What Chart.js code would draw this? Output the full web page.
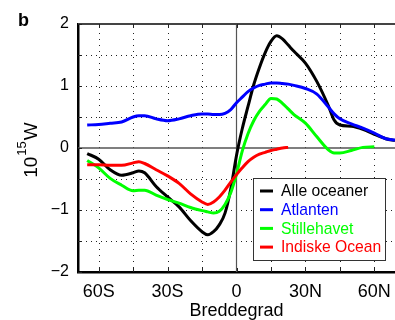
<!DOCTYPE html>
<html>
<head>
<meta charset="utf-8">
<script src="https://cdn.jsdelivr.net/npm/chart.js@4.4.0/dist/chart.umd.min.js"></script>
<style>
body { margin: 0; background: #fff; overflow: hidden; }
</style>
</head>
<body>
<canvas id="chart" width="395" height="320"></canvas>
<script>
// latitude (negative = south), heat transport in 10^15 W
const lats = [-65, -60, -55, -50, -45, -42.5, -40, -35, -30, -25, -20, -15, -12.5, -10, -7.5, -5, -2.5,
    0, 2.5, 5, 7.5, 10, 12.5, 15, 17.5, 20, 22.5, 25, 30, 35, 40, 42.5, 45, 50, 55, 60, 65, 69]

const alleOceaner = [-0.09, -0.18, -0.35, -0.44, -0.40, -0.37, -0.40, -0.62, -0.79, -0.95, -1.17, -1.35, -1.40, -1.35, -1.24, -1.05, -0.66,
    -0.12, 0.31, 0.67, 1.02, 1.30, 1.54, 1.72, 1.81, 1.76, 1.66, 1.56, 1.37, 1.07, 0.68, 0.45, 0.37, 0.35, 0.30, 0.22, 0.15, 0.12]
const atlanten = [0.37, 0.38, 0.40, 0.42, 0.50, 0.52, 0.52, 0.47, 0.44, 0.47, 0.52, 0.55, 0.55, 0.54, 0.54, 0.56, 0.62,
    0.73, 0.82, 0.91, 0.97, 1.01, 1.03, 1.05, 1.05, 1.04, 1.03, 1.01, 0.96, 0.87, 0.66, 0.55, 0.47, 0.39, 0.32, 0.24, 0.15, 0.13]
const stillehavet = [-0.20, -0.32, -0.49, -0.60, -0.69, -0.68, -0.68, -0.76, -0.83, -0.89, -0.96, -1.01, -1.03, -1.05, -1.02, -0.91, -0.72,
    -0.42, -0.05, 0.23, 0.44, 0.59, 0.70, 0.80, 0.79, 0.72, 0.63, 0.54, 0.40, 0.18, -0.03, -0.08, -0.08, -0.04, 0.01, 0.02, null, null]
const indiskeOcean = [-0.27, -0.27, -0.28, -0.28, -0.24, -0.22, -0.25, -0.35, -0.45, -0.57, -0.74, -0.87, -0.91, -0.87, -0.79, -0.68, -0.55,
    -0.43, -0.32, -0.22, -0.15, -0.10, -0.07, -0.04, -0.02, 0.0, 0.01, null, null, null, null, null, null, null, null, null, null, null]

const seriesNames = ['Alle oceaner', 'Atlanten', 'Stillehavet', 'Indiske Ocean']

const xTickValues = [-60, -30, 0, 30, 60]
const xTickLabels = ['60S', '30S', '0', '30N', '60N']
const yTickValues = [-2, -1, 0, 1, 2]
const yTickLabels = ['\u22122', '\u22121', '0', '1', '2']

const FONT = "'Liberation Sans', Arial, sans-serif"

function points(values) {
    return lats.map((lat, i) => ({x: lat, y: values[i]}))
}

function line(label, values, color, order) {
    return {
        label: label,
        data: points(values),
        borderColor: color,
        backgroundColor: color,
        borderWidth: 3,
        pointRadius: 0,
        cubicInterpolationMode: 'monotone',
        spanGaps: false,
        order: order
    }
}

const decor = {
    id: 'decor',
    beforeDatasetsDraw(chart) {
        const {ctx, chartArea: a, scales: {x, y}} = chart
        ctx.save()
        // dotted grid
        ctx.fillStyle = '#222'
        x.ticks.forEach(t => {
            if (t.value === 0) return
            const px = Math.round(x.getPixelForValue(t.value))
            for (let py = a.top + 3; py < a.bottom; py += 6) ctx.fillRect(px, py, 1, 1)
        })
        y.ticks.forEach(t => {
            if (t.value === 0 || Math.abs(t.value) === 2) return
            const py = Math.round(y.getPixelForValue(t.value))
            for (let px = a.left + 3; px < a.right; px += 5) ctx.fillRect(px, py, 1, 1)
        })
        // zero lines
        ctx.strokeStyle = '#555'
        ctx.lineWidth = 1.6
        const y0 = y.getPixelForValue(0)
        ctx.beginPath(); ctx.moveTo(a.left, y0); ctx.lineTo(a.right, y0); ctx.stroke()
        ctx.lineWidth = 1.2
        const x0 = x.getPixelForValue(0)
        ctx.beginPath(); ctx.moveTo(x0, a.top); ctx.lineTo(x0, a.bottom); ctx.stroke()
        ctx.restore()
    },
    afterDraw(chart) {
        const {ctx, chartArea: a, scales: {x, y}} = chart
        ctx.save()
        // top frame
        ctx.strokeStyle = '#444'
        ctx.lineWidth = 2
        ctx.beginPath(); ctx.moveTo(a.left, a.top); ctx.lineTo(a.right, a.top); ctx.stroke()
        // inward tick marks
        ctx.strokeStyle = '#222'
        ctx.lineWidth = 1
        x.ticks.forEach(t => {
            const px = Math.round(x.getPixelForValue(t.value)) + 0.5
            ctx.beginPath(); ctx.moveTo(px, a.top); ctx.lineTo(px, a.top + 4); ctx.stroke()
            ctx.beginPath(); ctx.moveTo(px, a.bottom); ctx.lineTo(px, a.bottom - 4); ctx.stroke()
        })
        y.ticks.forEach(t => {
            const py = Math.round(y.getPixelForValue(t.value)) + 0.5
            ctx.beginPath(); ctx.moveTo(a.left, py); ctx.lineTo(a.left + 4, py); ctx.stroke()
        })

        // panel letter
        ctx.fillStyle = '#000'
        ctx.font = 'bold 18px ' + FONT
        ctx.textAlign = 'left'
        ctx.textBaseline = 'alphabetic'
        ctx.fillText('b', 18, 26)

        // y title with superscript
        ctx.save()
        ctx.translate(37, 150)
        ctx.rotate(-Math.PI / 2)
        const big = '19px ' + FONT, small = '13px ' + FONT
        ctx.font = big
        const w1 = ctx.measureText('10').width, w3 = ctx.measureText('W').width
        ctx.font = small
        const w2 = ctx.measureText('15').width
        let cx = -(w1 + w2 + w3 + 2) / 2
        ctx.font = big
        ctx.fillText('10', cx, 0)
        cx += w1 + 1
        ctx.font = small
        ctx.fillText('15', cx, -11)
        cx += w2 + 1
        ctx.font = big
        ctx.fillText('W', cx, 0)
        ctx.restore()

        // legend
        const box = {left: 253.5, top: 178.5, width: 132, height: 82}
        ctx.fillStyle = '#fff'
        ctx.fillRect(box.left, box.top, box.width, box.height)
        ctx.strokeStyle = '#333'
        ctx.lineWidth = 1
        ctx.strokeRect(box.left, box.top, box.width, box.height)
        ctx.font = '15.7px ' + FONT
        ctx.textBaseline = 'middle'
        chart.data.datasets.forEach((ds, i) => {
            const ry = 191 + i * 18.7
            ctx.strokeStyle = ds.borderColor
            ctx.lineWidth = 3
            ctx.beginPath(); ctx.moveTo(260, ry); ctx.lineTo(273, ry); ctx.stroke()
            ctx.fillStyle = ds.borderColor
            ctx.fillText(ds.label, 281, ry + 1)
        })
        ctx.restore()
    }
}

new Chart(document.getElementById('chart'), {
    type: 'line',
    data: {
        datasets: [
            line(seriesNames[0], alleOceaner, '#000000', 3),
            line(seriesNames[1], atlanten, '#0000ff', 2),
            line(seriesNames[2], stillehavet, '#00ff00', 1),
            line(seriesNames[3], indiskeOcean, '#ff0000', 0)
        ]
    },
    options: {
        responsive: false,
        animation: false,
        layout: {padding: {left: 0, right: 0, top: 24, bottom: 0}},
        plugins: {legend: {display: false}, tooltip: {enabled: false}},
        scales: {
            x: {
                type: 'linear',
                min: -69,
                max: 69,
                afterFit: s => { s.height = 48; s.paddingLeft = 0; s.paddingRight = 0 },
                ticks: {
                    stepSize: 15,
                    includeBounds: false,
                    color: '#000',
                    padding: 9,
                    maxRotation: 0,
                    autoSkip: false,
                    font: {family: FONT, size: 18},
                    callback: v => {
                        const i = xTickValues.indexOf(v)
                        return i >= 0 ? xTickLabels[i] : ''
                    }
                },
                grid: {display: false, drawTicks: false},
                border: {display: true, color: '#000', width: 2.5},
                title: {display: true, text: 'Breddegrad', color: '#000', padding: 0,
                    font: {family: FONT, size: 18, lineHeight: 1}}
            },
            y: {
                min: -2,
                max: 2,
                afterFit: s => { s.width = 78 },
                ticks: {
                    stepSize: 0.5,
                    color: '#000',
                    padding: 9,
                    font: {family: FONT, size: 16},
                    callback: v => {
                        const i = yTickValues.indexOf(v)
                        return i >= 0 ? yTickLabels[i] : ''
                    }
                },
                grid: {display: false, drawTicks: false},
                border: {display: true, color: '#000', width: 2.5}
            }
        }
    },
    plugins: [decor]
})
</script>
</body>
</html>
